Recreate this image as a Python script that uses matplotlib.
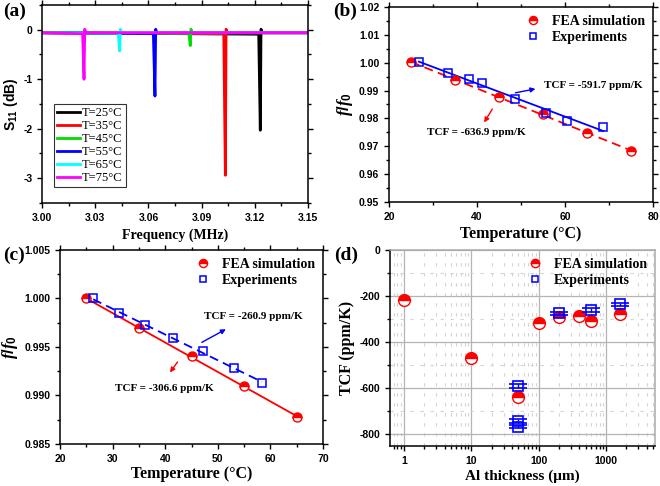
import numpy as np
import matplotlib
matplotlib.use("Agg")
import matplotlib.pyplot as plt
from matplotlib.ticker import MultipleLocator, FixedLocator, NullFormatter, LogLocator
from matplotlib.lines import Line2D

plt.rcParams['axes.unicode_minus'] = False
plt.rcParams['mathtext.fontset'] = 'custom'
plt.rcParams['mathtext.bf'] = 'Liberation Sans:bold'
plt.rcParams['mathtext.rm'] = 'Liberation Sans:bold'
plt.rcParams['mathtext.it'] = 'Liberation Serif:style=italic:weight=bold'

SANS = 'Liberation Sans'
SERIF = 'Liberation Serif'

# ---------------- data: panel (a) ----------------
temps_a = ['T=25°C', 'T=35°C', 'T=45°C', 'T=55°C', 'T=65°C', 'T=75°C']
colors_a = ['black', 'red', '#00dd00', 'blue', 'cyan', 'magenta']
freq_25 = [3.000, 3.1222, 3.1231, 3.1235, 3.1242, 3.150]
s11_25 = [-0.06, -0.09, -2.03, 0.01, -0.06, -0.06]
freq_35 = [3.000, 3.1025, 3.1034, 3.1038, 3.1045, 3.150]
s11_35 = [-0.06, -0.08, -2.94, 0.01, -0.06, -0.06]
freq_45 = [3.000, 3.0828, 3.0836, 3.0840, 3.0847, 3.150]
s11_45 = [-0.06, -0.07, -0.32, 0.01, -0.06, -0.06]
freq_55 = [3.000, 3.0628, 3.0637, 3.0641, 3.0648, 3.150]
s11_55 = [-0.06, -0.08, -1.34, 0.01, -0.06, -0.06]
freq_65 = [3.000, 3.0430, 3.0438, 3.0442, 3.0449, 3.150]
s11_65 = [-0.06, -0.07, -0.43, 0.01, -0.06, -0.06]
freq_75 = [3.000, 3.0229, 3.0237, 3.0241, 3.0248, 3.150]
s11_75 = [-0.06, -0.08, -1.00, 0.01, -0.06, -0.06]

# ---------------- data: panel (b) ----------------
fea_T_b = [25, 35, 45, 55, 65, 75]
fea_f_b = [1.0002, 0.9938, 0.9878, 0.9815, 0.9747, 0.9684]
exp_T_b = [26.8, 33.4, 38.2, 41.2, 48.6, 55.6, 60.5, 68.7]
exp_f_b = [1.0002, 0.9964, 0.9942, 0.9928, 0.9871, 0.9818, 0.9792, 0.9771]

# ---------------- data: panel (c) ----------------
fea_T_c = [25, 35, 45, 55, 65]
fea_f_c = [1.0000, 0.99693, 0.99403, 0.99093, 0.98783]
exp_T_c = [26.3, 31.2, 36.1, 41.5, 47.2, 53.1, 58.4]
exp_f_c = [1.0000, 0.99852, 0.99724, 0.99590, 0.99455, 0.99279, 0.99134]

# ---------------- data: panel (d) ----------------
fea_thk = [1, 10, 50, 100, 200, 400, 600, 1600]
fea_tcf = [-216, -468, -637, -315, -292, -288, -308, -276]
exp_thk = [50, 50, 50, 200, 600, 1600]
exp_tcf = [-589, -742, -766, -275, -261, -236]
exp_err = [8, 8, 8, 8, 8, 8]

RED = '#ff0000'
BLUE = '#0000ff'
TICK_FS = 7.5

fig = plt.figure(figsize=(6.6, 4.86), dpi=100)


def style_ticks(ax):
    ax.tick_params(which='both', direction='out', top=True, right=True,
                   labelsize=TICK_FS, width=1.0)
    ax.tick_params(which='major', length=3.5)
    ax.tick_params(which='minor', length=2)
    for lab in ax.get_xticklabels() + ax.get_yticklabels():
        lab.set_fontfamily(SANS)
        lab.set_fontweight('bold')
    for sp in ax.spines.values():
        sp.set_linewidth(1.1)


# ================= (a) =================
axa = fig.add_axes([42/660, 1-203/486, 266/660, 198/486])
series_a = [(freq_25, s11_25), (freq_35, s11_35), (freq_45, s11_45),
            (freq_55, s11_55), (freq_65, s11_65), (freq_75, s11_75)]
for (fx, sy), c, lab in zip(series_a, colors_a, temps_a):
    axa.plot(fx, sy, color=c, lw=2.0, label=lab)
axa.set_xlim(3.00, 3.15)
axa.set_ylim(-3.5, 0.5)
axa.xaxis.set_minor_locator(MultipleLocator(0.015))
axa.yaxis.set_minor_locator(MultipleLocator(0.5))
axa.set_xticks([3.00, 3.03, 3.06, 3.09, 3.12, 3.15])
axa.set_xticklabels(['3.00', '3.03', '3.06', '3.09', '3.12', '3.15'])
axa.set_yticks([0, -1, -2, -3])
axa.set_yticklabels(['0', '-1', '-2', '-3'])
style_ticks(axa)
axa.set_xlabel('Frequency (MHz)', fontfamily=SERIF, fontweight='bold', fontsize=10, labelpad=4)
axa.set_ylabel(r'$\mathbf{S_{11}}$ (dB)', fontfamily=SANS, fontweight='bold', fontsize=10, labelpad=2)
leg = axa.legend(loc='lower left', bbox_to_anchor=(0.045, 0.08), prop={'family': SERIF, 'size': 9},
                 frameon=True, fancybox=False, edgecolor='black', handlelength=1.8,
                 handletextpad=0.2, labelspacing=0.08, borderpad=0.25, borderaxespad=0)
leg.get_frame().set_linewidth(0.8)

# ================= (b) =================
axb = fig.add_axes([389/660, 1-202/486, 264/660, 195/486])
pr = np.polyfit(fea_T_b, fea_f_b, 1)
pb = np.polyfit(exp_T_b, exp_f_b, 1)
xr = np.array([fea_T_b[0], fea_T_b[-1]])
xb = np.array([exp_T_b[0], exp_T_b[-1]])
axb.plot(xr, np.polyval(pr, xr), color=RED, lw=1.3, ls=(0, (5, 3)))
axb.plot(xb, np.polyval(pb, xb), color=BLUE, lw=1.3)
axb.plot(fea_T_b, fea_f_b, 'o', ms=6.5, color=RED, mec=RED, fillstyle='top',
         markerfacecoloralt='white', mew=1.0, label='FEA simulation')
axb.plot(exp_T_b, exp_f_b, 's', ms=5.5, mfc='none', mec=BLUE, mew=1.1, label='Experiments')
axb.set_xlim(20, 80)
axb.set_ylim(0.95, 1.02)
axb.xaxis.set_major_locator(MultipleLocator(20))
axb.xaxis.set_minor_locator(MultipleLocator(10))
axb.yaxis.set_major_locator(MultipleLocator(0.01))
axb.yaxis.set_minor_locator(MultipleLocator(0.005))
axb.yaxis.set_major_formatter(matplotlib.ticker.FormatStrFormatter('%.2f'))
style_ticks(axb)
axb.set_xlabel('Temperature (°C)', fontfamily=SERIF, fontweight='bold', fontsize=11.5, labelpad=3)
axb.set_ylabel(r'$\mathit{f/f_0}$', fontsize=12, labelpad=3)
axb.legend(loc='upper right', bbox_to_anchor=(1.0, 1.0), frameon=False,
           prop={'family': SERIF, 'weight': 'bold', 'size': 10}, handletextpad=0.3,
           labelspacing=0.2, borderaxespad=0.2, markerscale=0.9)
axb.annotate('', xy=(53.9, 0.9908), xytext=(48.1, 0.9890),
             arrowprops=dict(arrowstyle='-|>', color=BLUE, lw=1.0, mutation_scale=7))
axb.text(66.5, 0.9920, 'TCF = -591.7 ppm/K', ha='center', va='center',
         fontfamily=SERIF, fontweight='bold', fontsize=8)
axb.annotate('', xy=(41.3, 0.9777), xytext=(43.8, 0.9842),
             arrowprops=dict(arrowstyle='-|>', color=RED, lw=1.0, mutation_scale=7))
axb.text(39.9, 0.9750, 'TCF = -636.9 ppm/K', ha='center', va='center',
         fontfamily=SERIF, fontweight='bold', fontsize=8)

# ================= (c) =================
axc = fig.add_axes([60/660, 1-444/486, 263/660, 194/486])
pr = np.polyfit(fea_T_c, fea_f_c, 1)
pb = np.polyfit(exp_T_c, exp_f_c, 1)
xr = np.array([fea_T_c[0], fea_T_c[-1]])
xb = np.array([exp_T_c[0], exp_T_c[-1]])
axc.plot(xr, np.polyval(pr, xr), color=RED, lw=1.3)
axc.plot(xb, np.polyval(pb, xb), color=BLUE, lw=1.3, ls=(0, (5, 3)))
axc.plot(fea_T_c, fea_f_c, 'o', ms=6.5, color=RED, mec=RED, fillstyle='top',
         markerfacecoloralt='white', mew=1.0, label='FEA simulation')
axc.plot(exp_T_c, exp_f_c, 's', ms=5.5, mfc='none', mec=BLUE, mew=1.1, label='Experiments')
axc.set_xlim(20, 70)
axc.set_ylim(0.985, 1.005)
axc.xaxis.set_major_locator(MultipleLocator(10))
axc.xaxis.set_minor_locator(MultipleLocator(5))
axc.yaxis.set_major_locator(MultipleLocator(0.005))
axc.yaxis.set_minor_locator(MultipleLocator(0.0025))
axc.yaxis.set_major_formatter(matplotlib.ticker.FormatStrFormatter('%.3f'))
style_ticks(axc)
axc.set_xlabel('Temperature (°C)', fontfamily=SERIF, fontweight='bold', fontsize=11.5, labelpad=2)
axc.set_ylabel(r'$\mathit{f/f_0}$', fontsize=12, labelpad=3)
axc.legend(loc='upper right', bbox_to_anchor=(1.0, 1.0), frameon=False,
           prop={'family': SERIF, 'weight': 'bold', 'size': 10}, handletextpad=0.3,
           labelspacing=0.2, borderaxespad=0.2, markerscale=0.9)
axc.annotate('', xy=(52.0, 0.99697), xytext=(46.5, 0.99534),
             arrowprops=dict(arrowstyle='-|>', color=BLUE, lw=1.0, mutation_scale=7))
axc.text(56.7, 0.99810, 'TCF = -260.9 ppm/K', ha='center', va='center',
         fontfamily=SERIF, fontweight='bold', fontsize=8)
axc.annotate('', xy=(40.6, 0.99214), xytext=(42.65, 0.99369),
             arrowprops=dict(arrowstyle='-|>', color=RED, lw=1.0, mutation_scale=7))
axc.text(39.8, 0.99069, 'TCF = -306.6 ppm/K', ha='center', va='center',
         fontfamily=SERIF, fontweight='bold', fontsize=8)

# ================= (d) =================
axd = fig.add_axes([390/660, 1-446/486, 265/660, 196/486])
axd.set_xscale('log')
axd.set_xlim(0.62, 5300)
axd.set_ylim(-850, 0)
axd.xaxis.set_major_locator(FixedLocator([1, 10, 100, 1000]))
axd.xaxis.set_minor_locator(LogLocator(base=10, subs=np.arange(2, 10), numticks=20))
axd.xaxis.set_minor_formatter(NullFormatter())
axd.set_xticklabels(['1', '10', '100', '1000'])
axd.yaxis.set_minor_locator(MultipleLocator(100))
axd.grid(which='major', color='#b4b4b4', lw=0.9, ls='-')
axd.grid(which='minor', color='#d4d4d4', lw=0.8, ls=(0, (3, 6)))
axd.set_axisbelow(True)
axd.plot(fea_thk, fea_tcf, 'o', ms=8.5, color=RED, mec=RED, fillstyle='top',
         markerfacecoloralt='white', mew=1.0, label='FEA simulation', zorder=3)
axd.errorbar(exp_thk, exp_tcf, yerr=exp_err, fmt='s', ms=6.5, mfc='none', mec=BLUE,
             mew=1.2, ecolor=BLUE, elinewidth=1.0, capsize=6.5, capthick=1.2,
             color=BLUE, label='Experiments', zorder=4)
axd.set_yticks([0, -200, -400, -600, -800])
axd.set_yticklabels(['0', '-200', '-400', '-600', '-800'])
style_ticks(axd)
axd.tick_params(which='both', top=False, right=False)
axd.spines['top'].set_color('#aaaaaa')
axd.spines['right'].set_color('#aaaaaa')
axd.set_xlabel('Al thickness (μm)', fontfamily=SERIF, fontweight='bold', fontsize=11, labelpad=3)
axd.set_ylabel('TCF (ppm/K)', fontfamily=SERIF, fontweight='bold', fontsize=11.5, labelpad=3)
h1 = Line2D([], [], marker='o', ls='none', ms=6, color=RED, mec=RED, fillstyle='top',
            markerfacecoloralt='white')
h2 = Line2D([], [], marker='s', ls='none', ms=5, mfc='none', mec=BLUE, mew=1.1)
axd.legend([h1, h2], ['FEA simulation', 'Experiments'], loc='upper right',
           bbox_to_anchor=(1.0, 1.0), frameon=False,
           prop={'family': SERIF, 'weight': 'bold', 'size': 10}, handletextpad=0.3,
           labelspacing=0.2, borderaxespad=0.2)

# panel labels
for x, y, s in [(3, 3, '(a)'), (333, 3, '(b)'), (3, 247, '(c)'), (334, 247, '(d)')]:
    fig.text(x/660, 1-y/486, s, ha='left', va='top', fontfamily=SERIF,
             fontweight='bold', fontsize=14)

fig.savefig('out.png', dpi=100)
